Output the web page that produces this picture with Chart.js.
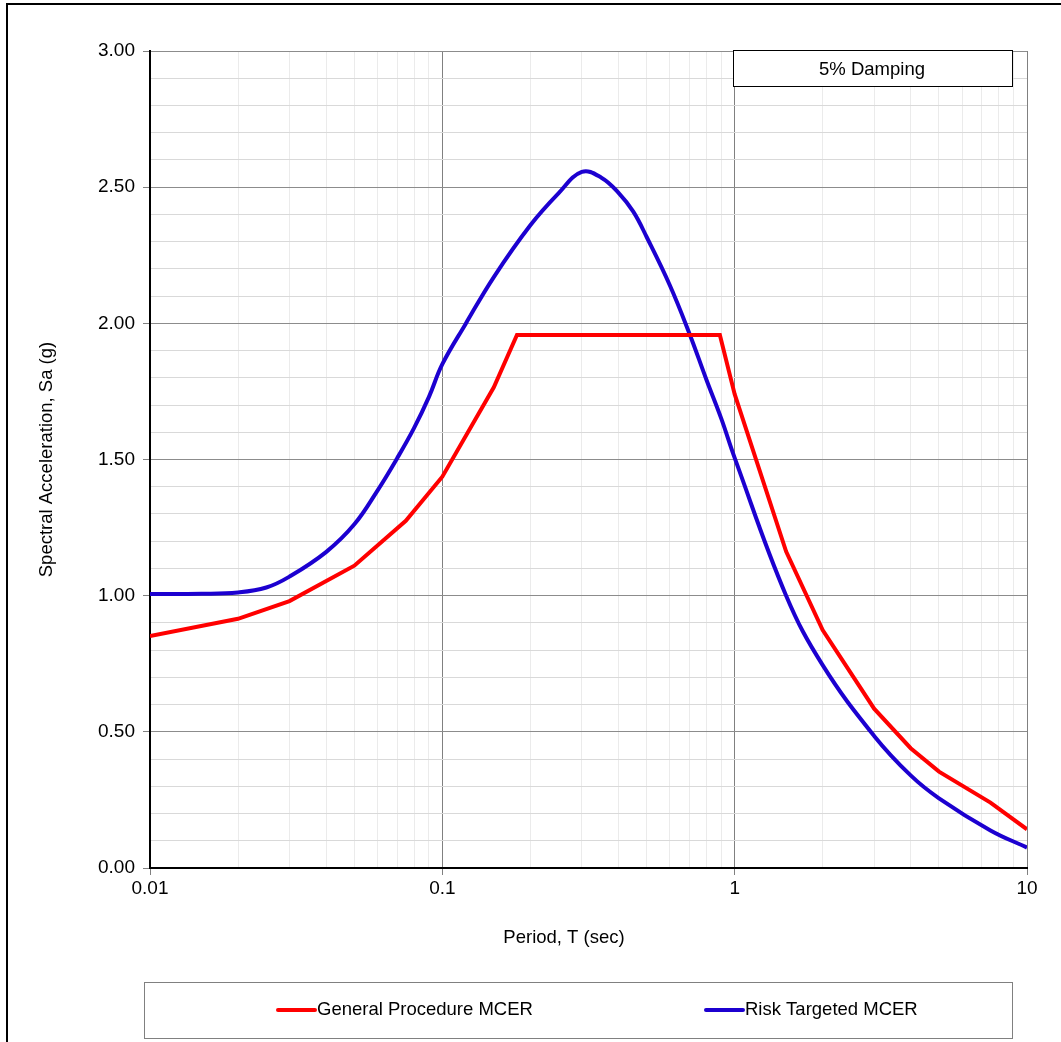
<!DOCTYPE html>
<html lang="en">
<head>
  <meta charset="UTF-8">
  <title>MCER Response Spectra</title>
  <script src="https://cdn.jsdelivr.net/npm/chart.js@4"></script>
  <style>
    body { margin: 0; background: #fff; }
    #wrap { position: relative; width: 1061px; height: 1042px; }
  </style>
</head>
<body>
  <div id="wrap"><canvas id="spectrumChart"></canvas></div>
  <script>
    // General procedure MCER (straight segments)
    const generalPeriods = [0.01, 0.02, 0.03, 0.05, 0.075, 0.1, 0.15, 0.18, 0.89, 1.0, 1.5, 2, 3, 4, 5, 7.5, 10];
    const generalSa = [0.852, 0.915, 0.98, 1.11, 1.275, 1.437, 1.765, 1.957, 1.957, 1.74, 1.162, 0.874, 0.585, 0.44, 0.354, 0.24, 0.142];

    // Risk targeted MCER (smooth curve)
    const riskPeriods = [0.01, 0.015, 0.02, 0.025, 0.03, 0.04, 0.05, 0.06, 0.07, 0.08, 0.09, 0.1, 0.12, 0.15, 0.2, 0.25, 0.3, 0.35, 0.4, 0.45, 0.5, 0.6, 0.7, 0.8, 0.9, 1.0, 1.5, 2, 3, 4, 5, 7.5, 10];
    const riskSa = [1.006, 1.007, 1.012, 1.03, 1.07, 1.16, 1.262, 1.386, 1.504, 1.615, 1.73, 1.85, 1.997, 2.17, 2.36, 2.478, 2.556, 2.535, 2.48, 2.41, 2.317, 2.14, 1.963, 1.794, 1.65, 1.506, 1.0, 0.745, 0.485, 0.34, 0.256, 0.138, 0.075];

    // axis ticks
    const periodTicks = [
      0.01, 0.02, 0.03, 0.04, 0.05, 0.06, 0.07, 0.08, 0.09,
      0.1, 0.2, 0.3, 0.4, 0.5, 0.6, 0.7, 0.8, 0.9,
      1, 2, 3, 4, 5, 6, 7, 8, 9, 10
    ];
    const periodLabels = ['0.01', '0.1', '1', '10'];
    const saMajorLabels = ['0.00', '0.50', '1.00', '1.50', '2.00', '2.50', '3.00'];

    const FONT = 'Liberation Sans, Arial, sans-serif';

    const isDecade = v => periodLabels.includes(String(v));
    const isHalf = v => Math.round(v * 10) % 5 === 0;

    const decorations = {
      id: 'decorations',
      afterDraw(chart) {
        const ctx = chart.ctx;
        ctx.save();

        // outer frame
        ctx.strokeStyle = '#000';
        ctx.lineWidth = 2;
        ctx.strokeRect(7, 4, 1100, 1100);

        // damping note
        ctx.fillStyle = '#fff';
        ctx.fillRect(733, 51, 279, 36);
        ctx.strokeStyle = '#000';
        ctx.lineWidth = 1;
        ctx.strokeRect(733.5, 50.5, 279, 36);
        ctx.fillStyle = '#000';
        ctx.font = '18.5px ' + FONT;
        ctx.textAlign = 'center';
        ctx.textBaseline = 'middle';
        ctx.fillText('5% Damping', 872, 70);

        // x axis title
        ctx.fillText('Period, T (sec)', 564, 938);

        // legend
        ctx.strokeStyle = '#808080';
        ctx.lineWidth = 1;
        ctx.strokeRect(144.5, 982.5, 868, 56);
        const itemX = [278, 706];
        ctx.textAlign = 'left';
        chart.data.datasets.forEach((ds, i) => {
          const x = itemX[i];
          ctx.strokeStyle = ds.borderColor;
          ctx.lineWidth = 4;
          ctx.lineCap = 'round';
          ctx.beginPath();
          ctx.moveTo(x, 1010);
          ctx.lineTo(x + 37, 1010);
          ctx.stroke();
          ctx.fillStyle = '#000';
          ctx.fillText(ds.label, x + 39, 1010);
        });

        ctx.restore();
      }
    };

    const ctx = document.getElementById('spectrumChart').getContext('2d');
    new Chart(ctx, {
      type: 'line',
      data: {
        datasets: [
          {
            label: 'General Procedure MCER',
            data: generalPeriods.map((t, i) => ({ x: t, y: generalSa[i] })),
            borderColor: '#ff0000',
            borderWidth: 4,
            pointRadius: 0,
            tension: 0
          },
          {
            label: 'Risk Targeted MCER',
            data: riskPeriods.map((t, i) => ({ x: t, y: riskSa[i] })),
            borderColor: '#1c00d0',
            borderWidth: 4,
            pointRadius: 0,
            tension: 0.4
          }
        ]
      },
      options: {
        responsive: true,
        maintainAspectRatio: false,
        animation: false,
        layout: { padding: { top: 51, right: 34, left: 0, bottom: 74 } },
        plugins: {
          legend: { display: false },
          tooltip: { enabled: false }
        },
        scales: {
          x: {
            type: 'logarithmic',
            min: 0.01,
            max: 10,
            afterBuildTicks(scale) {
              scale.ticks = periodTicks.map(v => ({ value: v, major: isDecade(v) }));
            },
            afterFit(scale) { scale.height = 100; },
            ticks: {
              autoSkip: false,
              maxRotation: 0,
              padding: 2,
              color: '#000',
              font: { family: FONT, size: 19 },
              callback: v => isDecade(v) ? String(v) : ''
            },
            grid: {
              color: c => isDecade(c.tick.value) ? '#808080' : '#ebebeb',
              tickColor: c => isDecade(c.tick.value) ? '#808080' : 'rgba(0,0,0,0)',
              tickLength: 7
            },
            border: { color: '#000', width: 2 }
          },
          y: {
            min: 0,
            max: 3,
            afterBuildTicks(scale) {
              const list = [];
              for (let i = 0; i <= 30; i++) list.push({ value: i / 10 });
              scale.ticks = list;
            },
            afterFit(scale) { scale.width = 150; },
            ticks: {
              autoSkip: false,
              padding: 8,
              color: '#000',
              font: { family: FONT, size: 19 },
              callback: v => isHalf(v) ? saMajorLabels[Math.round(v * 2)] : ''
            },
            grid: {
              color: c => isHalf(c.tick.value) ? '#8c8c8c' : '#d9d9d9',
              tickColor: c => isHalf(c.tick.value) ? '#808080' : 'rgba(0,0,0,0)',
              tickLength: 7
            },
            border: { color: '#000', width: 2 },
            title: {
              display: true,
              text: 'Spectral Acceleration, Sa (g)',
              color: '#000',
              font: { family: FONT, size: 18.5 },
              padding: { top: 36, bottom: 0 }
            }
          }
        }
      },
      plugins: [decorations]
    });
  </script>
</body>
</html>
